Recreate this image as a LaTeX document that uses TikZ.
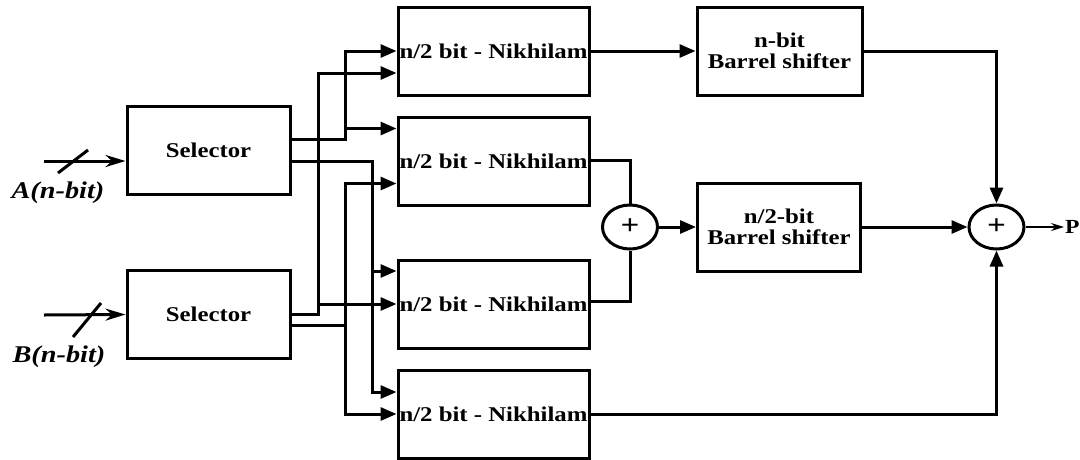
\documentclass[tikz,border=0pt]{standalone}
\usepackage{fontspec}
\setmainfont[FakeStretch=1.18]{Liberation Serif}
\usetikzlibrary{calc, positioning, arrows.meta, shapes.geometric}

\begin{document}
\begin{tikzpicture}[
    x=1pt, y=-1pt,
    >={Triangle[length=16pt,width=13pt]},
    block/.style={draw, line width=3pt, minimum width=163pt,
                  minimum height=88pt, inner sep=0pt, align=center,
                  font=\fontsize{21}{21}\selectfont\bfseries},
    nikbox/.style={block, minimum width=191pt},
    adder/.style={draw, ellipse, line width=3pt, minimum width=55pt,
                  minimum height=44pt, inner sep=0pt,
                  font=\fontsize{28}{28}\selectfont\bfseries},
    wire/.style={line width=3pt},
    inlabel/.style={font=\fontsize{24}{24}\selectfont\bfseries\itshape}
]
\useasboundingbox (0,0) rectangle (1080,459);

% --- Selecteurs ---
\node[block] (selA) at (208.5,150) {Selector};
\node[block] (selB) at (208.5,314.5) {Selector};

% --- Entrees A et B ---
\coordinate (inA) at (44,161);
\coordinate (inB) at (44,315);
\draw[wire, -{Stealth[length=20pt,width=12pt]}] (inA) -- ([yshift=-11pt]selA.west);
\draw[wire, -{Stealth[length=20pt,width=12pt]}] (inB) -- (selB.west);
\draw[wire] ($(inA)+(14,12)$) -- ($(inA)+(44,-11)$);
\draw[wire] ($(inB)+(29,22)$) -- ($(inB)+(57,-12)$);
\node[inlabel] (labA) at (58,193) {A(n-bit)};
\node[inlabel] (labB) at (59,357) {B(n-bit)};

% ============================================================
%  NIKHILAM  (quatre multiplieurs n/2 bit)
% ============================================================
\node[nikbox] (nik1) at (493.5,51)  {n/2 bit - Nikhilam};
\node[nikbox] (nik2) at (493.5,161.5) {n/2 bit - Nikhilam};
\node[nikbox] (nik3) at (493.5,304) {n/2 bit - Nikhilam};
\node[nikbox] (nik4) at (493.5,414) {n/2 bit - Nikhilam};

% ports d'entree
\coordinate (n1a) at (nik1.west);
\coordinate (n1b) at ([yshift=-22pt]nik1.west);
\coordinate (n2a) at ([yshift=33pt]nik2.west);
\coordinate (n2b) at ([yshift=-22pt]nik2.west);
\coordinate (n3a) at ([yshift=33pt]nik3.west);
\coordinate (n3b) at (nik3.west);
\coordinate (n4a) at ([yshift=22pt]nik4.west);
\coordinate (n4b) at (nik4.west);

% ports de sortie des selecteurs
\coordinate (sA1) at ([yshift=11pt]selA.east);
\coordinate (sA2) at ([yshift=-11pt]selA.east);
\coordinate (sB1) at (selB.east);
\coordinate (sB2) at ([yshift=-11pt]selB.east);

% bus verticaux
\coordinate (busA1) at (345,0);
\coordinate (busA2) at (372,0);
\coordinate (busB1) at (318,0);
\coordinate (busB2) at (345,0);

% ============================================================
%  CABLAGE selecteurs -> Nikhilam
% ============================================================
\draw[wire, ->] (sA1) -| (busA1 |- n1a) -- (n1a);
\draw[wire, ->] (busA1 |- n2a) -- (n2a);
\draw[wire, ->] (sA2) -| (busA2 |- n4a) -- (n4a);
\draw[wire, ->] (busA2 |- n3a) -- (n3a);
\draw[wire, ->] (sB1) -| (busB1 |- n1b) -- (n1b);
\draw[wire, ->] (busB1 |- n3b) -- (n3b);
\draw[wire, ->] (sB2) -| (busB2 |- n2b) -- (n2b);
\draw[wire, ->] (busB2 |- sB2) -- (busB2 |- n4b) -- (n4b);

% ============================================================
%  ADDITIONNEURS ET DECALEURS
% ============================================================
\node[adder] (add1) at (630,227) {+};
\node[block, minimum width=165pt] (bs1) at (779.5,51) {n-bit\\Barrel shifter};
\node[block] (bs2) at (779,227) {n/2-bit\\Barrel shifter};
\node[adder] (add2) at (996.5,227) {+};
\node[font=\fontsize{20}{20}\selectfont\bfseries, anchor=west,
      inner sep=1pt] (P) at (1064,227) {P};

\draw[wire, ->] (nik1.east) -- (bs1.west);
\draw[wire] ([yshift=1.5pt]nik2.east) -| (add1.north);
\draw[wire] ([yshift=3pt]nik3.east) -| (add1.south);
\draw[wire, ->] (add1.east) -- (bs2.west);
\draw[wire, ->] (bs2.east) -- (add2.west);
\draw[wire, ->] (bs1.east) -| (add2.north);
\draw[wire, ->] (nik4.east) -| (add2.south);
\draw[line width=1.4pt, -{Stealth[length=13pt,width=8pt]}] (add2.east) -- (P.west);

\end{tikzpicture}
\end{document}
